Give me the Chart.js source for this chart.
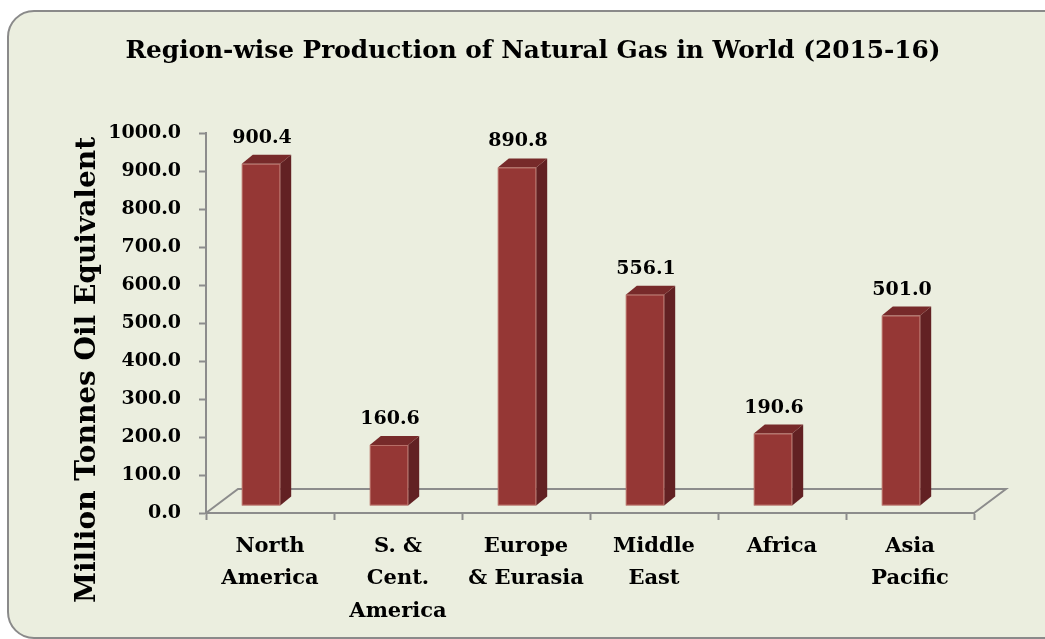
<!DOCTYPE html>
<html>
<head>
<meta charset="utf-8">
<title>Region-wise Production of Natural Gas in World (2015-16)</title>
<script src="https://cdn.jsdelivr.net/npm/chart.js@4.4.1/dist/chart.umd.min.js"></script>
<style>
  html, body { margin: 0; padding: 0; background: #ffffff; }
  #gasChart { display: block; }
</style>
</head>
<body>
<canvas id="gasChart" width="1045" height="639"></canvas>
<script>
// regions and production (million tonnes oil equivalent)
const regions = [
    ['North', 'America'],
    ['S. &', 'Cent.', 'America'],
    ['Europe', '& Eurasia'],
    ['Middle', 'East'],
    ['Africa'],
    ['Asia', 'Pacific']
];
const production = [900.4, 160.6, 890.8, 556.1, 190.6, 501.0];
const yTicks = [0, 100, 200, 300, 400, 500, 600, 700, 800, 900, 1000];

const chartTitle = 'Region-wise Production of Natural Gas in World (2015-16)';
const axisTitle = 'Million Tonnes Oil Equivalent';

const serif = 'DejaVu Serif';
const lineGray = '#8c8c8c';

// fake 3d look: floor depth and bar depth
const floorDepth = { dx: 32, dy: -24 };
const barDepth = { dx: 11, dy: -9 };
const barShift = { dx: -9, dy: -7 };

const box3d = {
    id: 'box3d',
    beforeDraw(chart) {
        const c = chart.ctx;
        c.save();
        const x0 = 8, y0 = 11, x1 = 1070, y1 = 638, r = 26;
        c.beginPath();
        c.moveTo(x0 + r, y0);
        c.lineTo(x1 - r, y0);
        c.arcTo(x1, y0, x1, y0 + r, r);
        c.lineTo(x1, y1 - r);
        c.arcTo(x1, y1, x1 - r, y1, r);
        c.lineTo(x0 + r, y1);
        c.arcTo(x0, y1, x0, y1 - r, r);
        c.lineTo(x0, y0 + r);
        c.arcTo(x0, y0, x0 + r, y0, r);
        c.closePath();
        c.fillStyle = '#ebeedf';
        c.fill();
        c.lineWidth = 2;
        c.strokeStyle = '#8a8a8a';
        c.stroke();

        c.fillStyle = '#000';
        c.textAlign = 'center';
        c.textBaseline = 'middle';

        // chart title
        c.font = 'bold 24.8px "' + serif + '"';
        c.fillText(chartTitle, 533, 52);

        // axis title
        c.translate(88, 370);
        c.rotate(-Math.PI / 2);
        c.font = 'bold 28px "' + serif + '"';
        c.fillText(axisTitle, 0, 0);
        c.restore();
    },
    beforeDatasetsDraw(chart) {
        // floor outline behind the bars
        const c = chart.ctx;
        const a = chart.chartArea;
        c.save();
        c.strokeStyle = lineGray;
        c.lineWidth = 2;
        c.beginPath();
        c.moveTo(a.left, a.bottom);
        c.lineTo(a.left + floorDepth.dx, a.bottom + floorDepth.dy);
        c.lineTo(a.right + floorDepth.dx, a.bottom + floorDepth.dy);
        c.lineTo(a.right, a.bottom);
        c.stroke();
        c.restore();
    },
    afterDatasetsDraw(chart) {
        const c = chart.ctx;
        const meta = chart.getDatasetMeta(0);
        c.save();
        meta.data.forEach((bar, i) => {
            const p = bar.getProps(['x', 'y', 'base', 'width'], true);
            const left = p.x - p.width / 2 + barShift.dx;
            const right = left + p.width;
            const top = p.y + barShift.dy;
            const bottom = p.base + barShift.dy;
            const dx = barDepth.dx, dy = barDepth.dy;

            // side
            c.fillStyle = '#622123';
            c.beginPath();
            c.moveTo(right, bottom);
            c.lineTo(right + dx, bottom + dy);
            c.lineTo(right + dx, top + dy);
            c.lineTo(right, top);
            c.closePath();
            c.fill();
            // top
            c.fillStyle = '#772a2a';
            c.beginPath();
            c.moveTo(left, top);
            c.lineTo(left + dx, top + dy);
            c.lineTo(right + dx, top + dy);
            c.lineTo(right, top);
            c.closePath();
            c.fill();
            // front
            c.fillStyle = '#953735';
            c.fillRect(left, top, p.width, bottom - top);
            c.strokeStyle = 'rgba(215,160,150,0.55)';
            c.lineWidth = 1;
            c.strokeRect(left + 0.5, top + 0.5, p.width - 1, bottom - top - 1);

            // value label
            c.fillStyle = '#000';
            c.font = 'bold 19px "' + serif + '"';
            c.textAlign = 'center';
            c.textBaseline = 'middle';
            c.fillText(production[i].toFixed(1), left + p.width / 2 + 1, top - 26);
        });
        c.restore();
    }
};

new Chart(document.getElementById('gasChart'), {
    type: 'bar',
    data: {
        labels: regions,
        datasets: [{
            label: 'Production',
            data: production,
            backgroundColor: 'rgba(0,0,0,0)',
            barPercentage: 0.6,
            categoryPercentage: 0.5
        }]
    },
    options: {
        responsive: false,
        devicePixelRatio: 1,
        animation: false,
        layout: { padding: { top: 133, left: 70, right: 71, bottom: 0 } },
        plugins: {
            legend: { display: false },
            tooltip: { enabled: false },
            title: { display: false }
        },
        scales: {
            x: {
                afterFit(scale) { scale.height = 126; },
                grid: {
                    drawOnChartArea: false,
                    drawTicks: true,
                    tickLength: 7,
                    tickWidth: 2,
                    color: lineGray
                },
                border: { color: lineGray, width: 2 },
                ticks: {
                    color: '#000',
                    padding: 10,
                    maxRotation: 0,
                    autoSkip: false,
                    font: { family: serif, size: 21, weight: 'bold', lineHeight: 1.55 }
                }
            },
            y: {
                min: 0,
                max: 1000,
                afterFit(scale) { scale.width = 136; },
                afterBuildTicks(scale) { scale.ticks = yTicks.map(v => ({ value: v })); },
                grid: {
                    drawOnChartArea: false,
                    drawTicks: true,
                    tickLength: 7,
                    tickWidth: 2,
                    color: lineGray
                },
                border: { color: lineGray, width: 2 },
                ticks: {
                    color: '#000',
                    padding: 18,
                    font: { family: serif, size: 19, weight: 'bold' },
                    callback: v => Number(v).toFixed(1)
                }
            }
        }
    },
    plugins: [box3d]
});
</script>
</body>
</html>
